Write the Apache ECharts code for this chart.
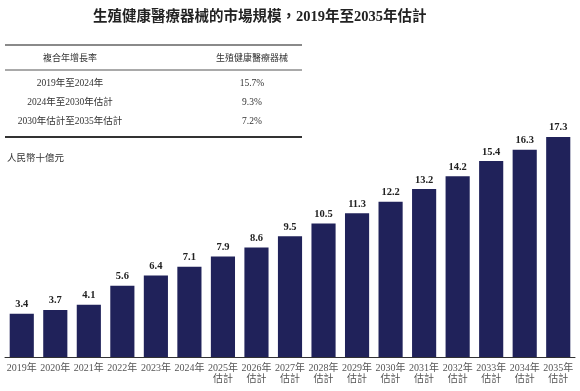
<!DOCTYPE html>
<html><head><meta charset="utf-8">
<script src="https://cdn.jsdelivr.net/npm/echarts@6/dist/echarts.min.js"></script>
<style>html,body{margin:0;padding:0;background:#fff}#c{width:580px;height:391px}</style>
</head><body><div id="c"></div>
<script>
const titleText = '生殖健康醫療器械的市場規模，2019年至2035年估計';
const unitLabel = '人民幣十億元';
const categories = ['2019年','2020年','2021年','2022年','2023年','2024年','2025年\n估計','2026年\n估計','2027年\n估計','2028年\n估計','2029年\n估計','2030年\n估計','2031年\n估計','2032年\n估計','2033年\n估計','2034年\n估計','2035年\n估計'];
const values = [3.4,3.7,4.1,5.6,6.4,7.1,7.9,8.6,9.5,10.5,11.3,12.2,13.2,14.2,15.4,16.3,17.3];
const tableHeader = ['複合年增長率','生殖健康醫療器械'];
const tablePeriods = ['2019年至2024年','2024年至2030年估計','2030年估計至2035年估計'];
const tableRates = ['15.7%','9.3%','7.2%'];

const serif = '"Liberation Serif","Noto Sans CJK TC",serif';
const chart = echarts.init(document.getElementById('c'));
const g = [];
g.push({type:'line',shape:{x1:5,y1:45,x2:302,y2:45},style:{stroke:'#8a8a8a',lineWidth:2}});
g.push({type:'line',shape:{x1:5,y1:70,x2:302,y2:70},style:{stroke:'#555',lineWidth:1}});
g.push({type:'line',shape:{x1:5,y1:137,x2:302,y2:137},style:{stroke:'#333',lineWidth:2}});
g.push({type:'text',x:70,y:58,style:{text:tableHeader[0],font:'9px "Noto Sans CJK TC"',fill:'#333',align:'center',verticalAlign:'middle'}});
g.push({type:'text',x:252,y:58,style:{text:tableHeader[1],font:'9px "Noto Sans CJK TC"',fill:'#333',align:'center',verticalAlign:'middle'}});
const rowsY = [83,102,121];
tablePeriods.forEach((p,i)=>{
  g.push({type:'text',x:70,y:rowsY[i],style:{text:p,font:'9.5px '+serif,fill:'#333',align:'center',verticalAlign:'middle'}});
  g.push({type:'text',x:252,y:rowsY[i],style:{text:tableRates[i],font:'9.5px '+serif,fill:'#333',align:'center',verticalAlign:'middle'}});
});
g.push({type:'text',x:7,y:158,style:{text:unitLabel,font:'9.5px '+serif,fill:'#333',align:'left',verticalAlign:'middle'}});

chart.setOption({
  animation:false,
  title:{text:titleText,left:88,top:5,textStyle:{fontFamily:serif,fontSize:14.5,fontWeight:'bold',color:'#222'}},
  graphic:g,
  grid:{left:5,right:5,top:128,bottom:34},
  xAxis:{type:'category',data:categories,
    axisLine:{lineStyle:{color:'#333',width:1}},axisTick:{show:false},
    axisLabel:{interval:0,fontFamily:serif,fontSize:10,color:'#555',lineHeight:11,margin:6}},
  yAxis:{type:'value',min:0,max:18,show:false,splitLine:{show:false}},
  series:[{type:'bar',data:values,barCategoryGap:'28%',
    itemStyle:{color:'#20225a'},
    label:{show:true,position:'top',distance:4,fontFamily:serif,fontWeight:'bold',fontSize:10.5,color:'#222'}}]
});
</script></body></html>
